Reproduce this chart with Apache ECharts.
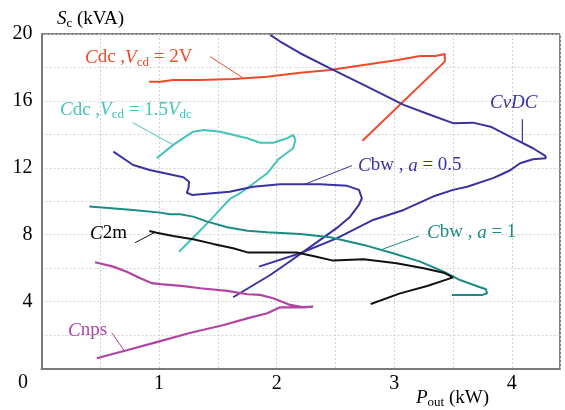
<!DOCTYPE html>
<html><head><meta charset="utf-8">
<script src="https://cdn.jsdelivr.net/npm/echarts@6/dist/echarts.min.js"></script>
<style>html,body{margin:0;padding:0;background:#fff}#c{width:565px;height:410px}</style>
</head><body><div id="c"></div>
<script>
// ---- data ([Pout kW, Sc kVA]) ----
const cdc2V = [[0.915,17.15],[1.01,17.15],[1.12,17.25],[1.35,17.25],[1.63,17.31],[1.92,17.45],[2.20,17.69],[2.455,17.85],[2.74,18.15],[3.03,18.45],[3.22,18.69],[3.35,18.69],[3.43,18.81],[3.43,18.35],[2.73,13.62]];
const cdc15 = [[0.98,12.57],[1.12,13.37],[1.29,14.16],[1.38,14.26],[1.52,14.16],[1.75,13.77],[1.86,13.5],[1.97,13.5],[2.09,13.77],[2.14,13.96],[2.16,13.67],[2.14,13.17],[2.015,12.51],[1.92,11.67],[1.69,10.48],[1.60,10.12],[1.41,8.68],[1.17,6.98]];
const cvdc = [[1.945,19.95],[2.03,19.55],[2.20,18.85],[2.455,17.95],[2.74,16.96],[2.94,16.26],[3.08,15.76],[3.31,15.16],[3.50,14.67],[3.67,14.70],[3.82,14.46],[4.01,13.77],[4.18,13.17],[4.285,12.71],[4.29,12.57],[4.18,12.51],[4.07,12.27],[3.99,11.87],[3.90,11.57],[3.84,11.38],[3.62,10.87],[3.50,10.68],[3.33,10.28],[3.08,9.48],[2.82,8.88],[2.51,7.78],[2.20,6.89],[1.85,6.09]];
const cbw05 = [[0.611,12.97],[0.78,12.17],[0.92,11.87],[1.207,11.44],[1.255,11.17],[1.25,10.78],[1.236,10.51],[1.28,10.38],[1.60,10.57],[1.80,10.87],[2.03,11.02],[2.37,11.02],[2.60,10.92],[2.70,10.68],[2.725,10.18],[2.70,9.78],[2.625,9.08],[2.51,8.39],[2.37,7.69],[2.23,6.99],[2.09,6.29],[1.945,5.59],[1.63,4.26]];
const cbw1 = [[0.407,9.68],[0.78,9.48],[1.01,9.32],[1.09,9.22],[1.18,9.22],[1.29,9.08],[1.41,8.78],[1.58,8.45],[1.75,8.24],[1.92,8.15],[2.20,8.04],[2.455,7.85],[2.74,7.39],[2.99,6.89],[3.22,6.39],[3.42,5.79],[3.56,5.29],[3.73,4.86],[3.78,4.74],[3.79,4.50],[3.75,4.40],[3.49,4.40]];
const c2m = [[0.917,8.22],[0.98,8.12],[1.12,7.92],[1.29,7.73],[1.46,7.45],[1.63,7.19],[1.76,6.93],[1.92,6.93],[2.17,6.93],[2.31,6.73],[2.48,6.45],[2.74,6.53],[3.02,6.29],[3.25,5.99],[3.42,5.73],[3.50,5.45],[3.45,5.33],[3.28,4.93],[3.05,4.49],[2.80,3.86]];
const cnps = [[0.455,6.35],[0.61,6.09],[0.725,5.79],[0.84,5.39],[0.94,5.10],[1.01,5.05],[1.21,4.93],[1.35,4.80],[1.58,4.64],[1.75,4.44],[1.86,4.40],[1.97,4.20],[2.115,3.80],[2.23,3.66],[2.31,3.70],[2.20,3.66],[2.03,3.66],[1.92,3.30],[1.75,3.00],[1.55,2.60],[1.26,2.12],[0.98,1.58],[0.725,1.09],[0.47,0.61]];
// leader lines
const leadCdc2V = [[1.434,18.65],[1.717,17.36]];
const leadCdc15 = [[0.776,14.70],[1.12,13.37]];
const leadCbw05 = [[2.64,12.13],[2.24,11.02]];
const leadCvdc = [[4.09,14.90],[4.09,13.56]];
const leadCbw1 = [[3.21,7.92],[2.90,7.13]];
const leadC2m = [[0.796,7.52],[0.966,8.15]];
const leadCnps = [[0.597,2.14],[0.71,1.00]];
// axis ticks
const xLabels = [1,2,3,4];
const yLabels = [4,8,12,16,20];

const FONT = '"Liberation Serif", "Times New Roman", serif';
const C = {red:'#EE4A2A', cyan:'#44C4BA', blue:'#3A32A0', teal:'#1A8C84', black:'#111111', mag:'#B044A4'};

function curve(data, color, w) {
  return {type:'line', data, showSymbol:false, symbol:'none', smooth:false, silent:true,
    lineStyle:{color, width:w}, animation:false, z: 3};
}
const rich = {
  i:{fontStyle:'italic', fontFamily:FONT, fontSize:19},
  n:{fontFamily:FONT, fontSize:19},
  s:{fontFamily:FONT, fontSize:13, padding:[10,0,0,0]},
  si:{fontFamily:FONT, fontSize:13, fontStyle:'italic', padding:[10,0,0,0]}
};
function label(text, x, y, color) {
  return {type:'text', x, y, silent:true, z:10,
    style:{text, fill:color, font:'19px '+FONT, align:'left', verticalAlign:'middle',
      rich: JSON.parse(JSON.stringify(rich))}};
}
const chart = echarts.init(document.getElementById('c'), null, {renderer:'canvas'});
chart.setOption({
  animation:false,
  backgroundColor:'#fff',
  grid:{left:41.5, right:5, top:34, bottom:41.5, show:true, borderColor:'#000', borderWidth:1, containLabel:false, outerBoundsMode:'none'},
  xAxis:{type:'value', min:0, max:4.41, interval:0.5,
    axisLine:{show:true, lineStyle:{color:'#7a7a7a', width:2}}, axisTick:{show:false},
    splitLine:{show:true, lineStyle:{color:'#d2d2d2', type:[2,2], width:1}},
    axisLabel:{margin:5, color:'#000', fontFamily:FONT, fontSize:20,
      formatter:v => xLabels.includes(Math.round(v*100)/100) ? String(v) : ''}},
  yAxis:{type:'value', min:0, max:20, interval:2,
    axisLine:{show:true, lineStyle:{color:'#7a7a7a', width:2}}, axisTick:{show:false},
    splitLine:{show:true, lineStyle:{color:'#d2d2d2', type:[2,2], width:1}},
    axisLabel:{margin:9, color:'#000', fontFamily:FONT, fontSize:20,
      formatter:v => yLabels.includes(v) ? String(v) : ''}},
  series:[
    curve(cdc2V, C.red, 2), curve(cdc15, C.cyan, 2), curve(cvdc, C.blue, 2),
    curve(cbw05, C.blue, 2), curve(cbw1, C.teal, 2), curve(c2m, C.black, 2), curve(cnps, C.mag, 2.2),
    curve(leadCdc2V, C.red, 1), curve(leadCdc15, C.cyan, 1), curve(leadCbw05, C.blue, 1),
    curve(leadCvdc, C.blue, 1.2), curve(leadCbw1, C.teal, 1), curve(leadC2m, C.black, 1), curve(leadCnps, C.mag, 1)
  ],
  graphic:[
    label('{i|C}{n|dc ,}{i|V}{s|cd}{n| = 2V}', 85, 57.5, C.red),
    label('{i|C}{n|dc ,}{i|V}{s|cd}{n| = 1.5}{i|V}{s|dc}', 60, 110, C.cyan),
    label('{i|C}{n|bw , }{i|a}{n| = 0.5}', 358, 165.5, C.blue),
    label('{i|CvDC}', 490, 103, C.blue),
    label('{i|C}{n|bw , }{i|a}{n| = 1}', 427, 232.5, C.teal),
    label('{i|C}{n|2m}', 90, 233.5, '#000'),
    label('{i|C}{n|nps}', 68, 330.5, C.mag),
    label('{i|S}{s|c}{n| (kVA)}', 57, 19, '#000'),
    label('{i|P}{s|out}{n| (kW)}', 416, 398, '#000'),
    {type:'text', x:23, y:383, silent:true, style:{text:'0', fill:'#000', font:'20px '+FONT, align:'center', verticalAlign:'middle'}}
  ]
});
</script></body></html>
